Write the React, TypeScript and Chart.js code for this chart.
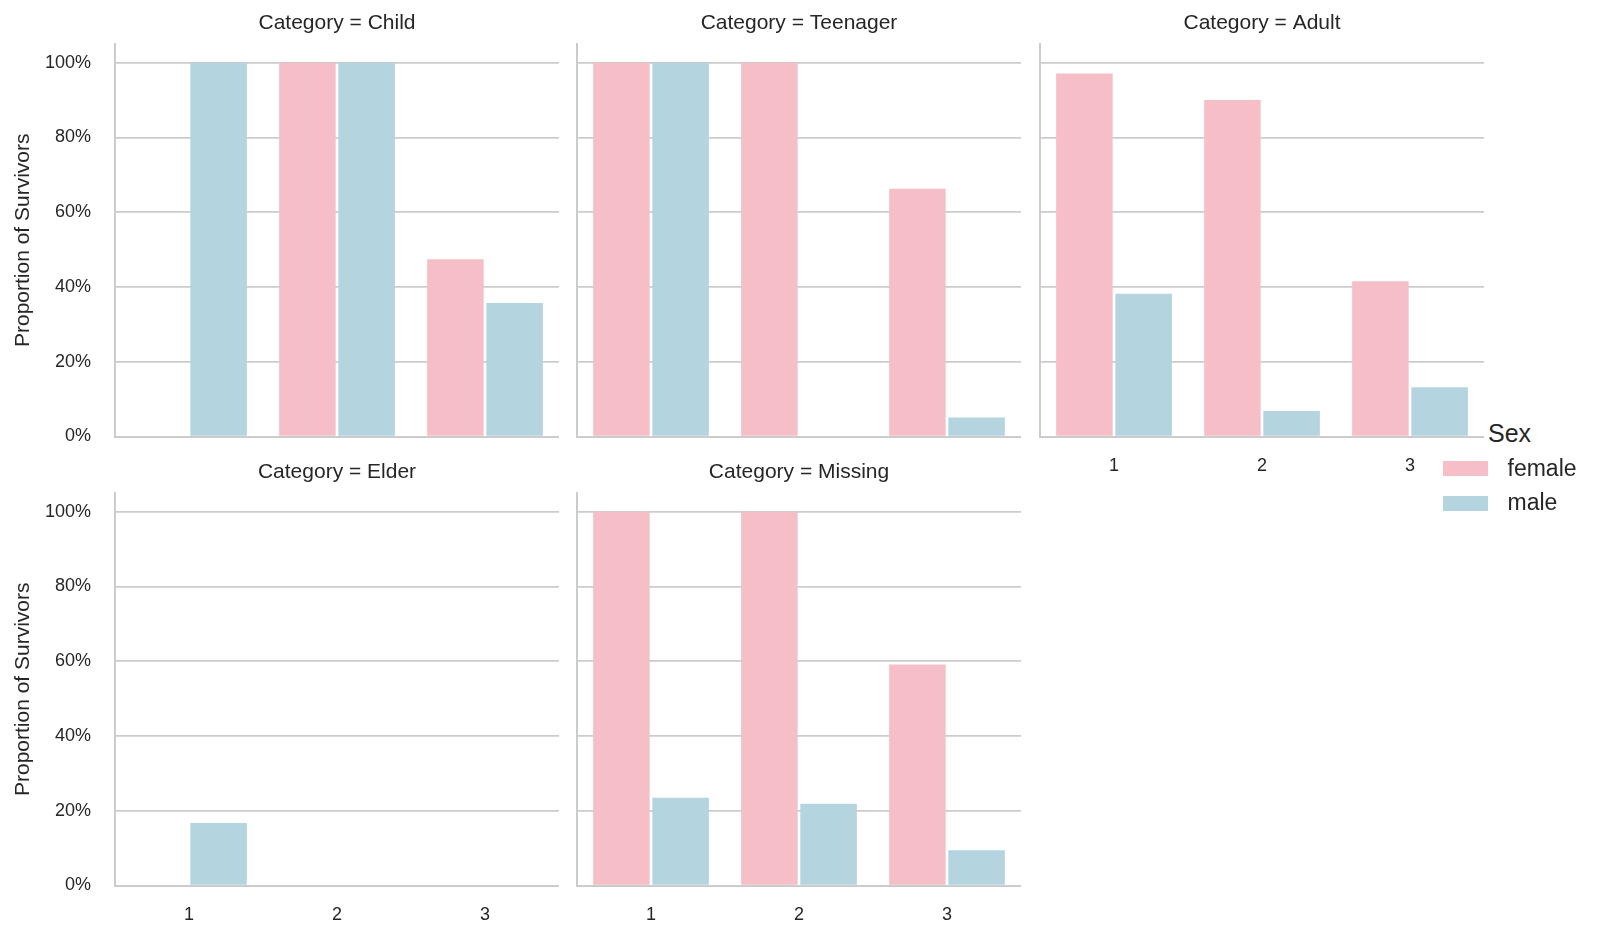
import React, { useEffect, useRef } from "react";
import { Chart, registerables } from "chart.js";

Chart.register(...registerables);

// ---- data ----
const classLabels = ["1", "2", "3"];
const yTickValues = [0, 0.2, 0.4, 0.6, 0.8, 1.0];

const childFemale = [null, 1.0, 0.474];
const childMale = [1.0, 1.0, 0.357];
const teenFemale = [1.0, 1.0, 0.663];
const teenMale = [1.0, 0, 0.051];
const adultFemale = [0.971, 0.9, 0.415];
const adultMale = [0.382, 0.068, 0.132];
const elderFemale = [null, null, null];
const elderMale = [0.167, 0, 0];
const missingFemale = [1.0, 1.0, 0.591];
const missingMale = [0.235, 0.219, 0.094];

const seriesNames = ["female", "male"];
const panelNames = ["Child", "Teenager", "Adult", "Elder", "Missing"];
const yAxisTitle = "Proportion of Survivors";
const legendTitle = "Sex";

// ---- style ----
const FONT = "'Liberation Sans', Arial, Helvetica, sans-serif";
const TEXT = "#262626";
const LINE = "#cccccc";
const FEMALE_COLOR = "#f6bfc7";
const MALE_COLOR = "#b4d4df";

const LEFT_PAD = 115;
const PLOT_W = 444;
const TITLE_H = 44;
const PLOT_H = 392.5;
const CANVAS_H = 487;

type PanelProps = {
  name: string;
  female: (number | null)[];
  male: (number | null)[];
  left: number;
  top: number;
  showX: boolean;
  showY: boolean;
};

function Panel({ name, female, male, left, top, showX, showY }: PanelProps) {
  const ref = useRef<HTMLCanvasElement | null>(null);
  useEffect(() => {
    if (!ref.current) return;
    const chart = new Chart(ref.current, {
      type: "bar",
      data: {
        labels: classLabels,
        datasets: [
          {
            label: seriesNames[0],
            data: female as any,
            backgroundColor: FEMALE_COLOR,
            borderWidth: 0,
            categoryPercentage: 0.8,
            barPercentage: 0.955,
          },
          {
            label: seriesNames[1],
            data: male as any,
            backgroundColor: MALE_COLOR,
            borderWidth: 0,
            categoryPercentage: 0.8,
            barPercentage: 0.955,
          },
        ],
      },
      options: {
        responsive: false,
        animation: false,
        events: [],
        devicePixelRatio: 1,
        layout: { padding: 0 },
        plugins: {
          legend: { display: false },
          tooltip: { enabled: false },
          title: {
            display: true,
            text: `Category = ${name}`,
            fullSize: false,
            color: TEXT,
            font: { family: FONT, size: 21, weight: "normal" as any, lineHeight: 1.2 },
            padding: { top: 10.8, bottom: TITLE_H - 10.8 - 25.2 },
          },
        },
        scales: {
          x: {
            type: "category",
            offset: true,
            z: 1,
            grid: { display: false, drawTicks: false },
            border: { display: true, color: LINE, width: 2 },
            ticks: {
              display: showX,
              color: TEXT,
              font: { family: FONT, size: 18 },
              padding: 19,
              maxRotation: 0,
            },
            afterFit: (scale: any) => {
              scale.height = CANVAS_H - TITLE_H - PLOT_H;
            },
          },
          y: {
            type: "linear",
            min: 0,
            max: 1.05,
            grid: { color: LINE, lineWidth: 1.75, drawTicks: false },
            border: { display: true, color: LINE, width: 2 },
            ticks: {
              display: showY,
              stepSize: 0.2,
              includeBounds: false,
              color: TEXT,
              font: { family: FONT, size: 18 },
              padding: 24,
              callback: (v: any) => `${Math.round(Number(v) * 100)}%`,
            },
            afterBuildTicks: (scale: any) => {
              scale.ticks = yTickValues.map((v) => ({ value: v }));
            },
            title: {
              display: showY,
              text: yAxisTitle,
              color: TEXT,
              font: { family: FONT, size: 21, lineHeight: 1.2 },
              padding: { top: 11, bottom: 0 },
            },
            afterFit: (scale: any) => {
              scale.width = LEFT_PAD;
            },
          },
        },
      },
    });
    return () => chart.destroy();
  }, [name, female, male, showX, showY]);

  return (
    <canvas
      ref={ref}
      width={LEFT_PAD + PLOT_W}
      height={CANVAS_H}
      style={{
        position: "absolute",
        left,
        top,
        width: LEFT_PAD + PLOT_W,
        height: CANVAS_H,
      }}
    />
  );
}

export default function App() {
  const panels: PanelProps[] = [
    { name: panelNames[0], female: childFemale, male: childMale, left: 0, top: 0, showX: false, showY: true },
    { name: panelNames[1], female: teenFemale, male: teenMale, left: 462, top: 0, showX: false, showY: false },
    { name: panelNames[2], female: adultFemale, male: adultMale, left: 924.5, top: 0, showX: true, showY: false },
    { name: panelNames[3], female: elderFemale, male: elderMale, left: 0, top: 449, showX: true, showY: true },
    { name: panelNames[4], female: missingFemale, male: missingMale, left: 462, top: 449, showX: true, showY: false },
  ];
  const legendColors = [FEMALE_COLOR, MALE_COLOR];
  return (
    <div
      style={{
        position: "fixed",
        left: 0,
        top: 0,
        width: 1600,
        height: 940,
        background: "#ffffff",
        overflow: "hidden",
        fontFamily: FONT,
        color: TEXT,
      }}
    >
      {panels.map((p) => (
        <Panel key={p.name} {...p} />
      ))}
      <div
        style={{
          position: "absolute",
          left: 1488,
          top: 420.8,
          fontSize: 25,
          lineHeight: "25px",
          whiteSpace: "nowrap",
        }}
      >
        {legendTitle}
      </div>
      {seriesNames.map((s, i) => (
        <React.Fragment key={s}>
          <div
            style={{
              position: "absolute",
              left: 1443,
              top: 461 + i * 34.5,
              width: 45,
              height: 15,
              background: legendColors[i],
            }}
          />
          <div
            style={{
              position: "absolute",
              left: 1507.5,
              top: 456.5 + i * 34.5,
              fontSize: 23,
              lineHeight: "23px",
              whiteSpace: "nowrap",
            }}
          >
            {s}
          </div>
        </React.Fragment>
      ))}
    </div>
  );
}
